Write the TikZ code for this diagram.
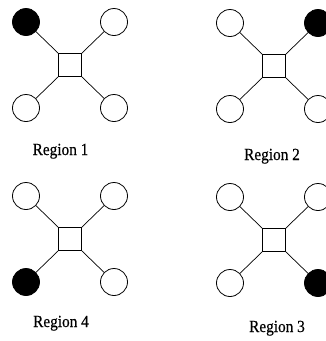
\documentclass[tikz,border=0pt]{standalone}
\usepackage{fontspec}
\setmainfont{Liberation Serif}
\newfontfamily\lblfont[FakeBold=0.5]{Liberation Serif}
\usepackage{graphicx}
\usetikzlibrary{calc}
\tikzset{
  hub/.style={draw, line width=0.8pt, minimum size=23pt, inner sep=0pt},
  site/.style={draw, circle, line width=0.8pt, minimum size=27pt, inner sep=0pt, fill=white},
  active/.style={site, fill=black},
  link/.style={line width=0.7pt},
  lbl/.style={inner sep=0pt, anchor=base, font=\lblfont\fontsize{17}{17}\selectfont}
}
% #1 prefix, #2 x, #3 y, #4..#7 styles of tl, tr, bl, br
\newcommand\ClusterUnit[7]{%
  \node[hub] (#1c) at (#2,#3) {};
  \node[#4] (#1tl) at ($(#1c)+(-44,-43)$) {};
  \node[#5] (#1tr) at ($(#1c)+(44,-43)$) {};
  \node[#6] (#1bl) at ($(#1c)+(-44,43)$) {};
  \node[#7] (#1br) at ($(#1c)+(44,43)$) {};
  \draw[link] (#1c.north west) -- (#1tl);
  \draw[link] (#1c.north east) -- (#1tr);
  \draw[link] (#1c.south west) -- (#1bl);
  \draw[link] (#1c.south east) -- (#1br);
}
\begin{document}
\begin{tikzpicture}[x=1pt,y=-1pt]
\useasboundingbox (0,0) rectangle (325,341);
\ClusterUnit{a}{70}{65}{active}{site}{site}{site}
\ClusterUnit{b}{274}{66}{site}{active}{site}{site}
\ClusterUnit{d}{70}{239}{site}{site}{active}{site}
\ClusterUnit{e}{274}{240}{site}{site}{site}{active}
\node[lbl] (la) at (60.5,155) {\scalebox{0.9}[1]{Region 1}};
\node[lbl] (lb) at (272,160) {\scalebox{0.9}[1]{Region 2}};
\node[lbl] (ld) at (61,327) {\scalebox{0.9}[1]{Region 4}};
\node[lbl] (le) at (277,332) {\scalebox{0.9}[1]{Region 3}};
\end{tikzpicture}
\end{document}
